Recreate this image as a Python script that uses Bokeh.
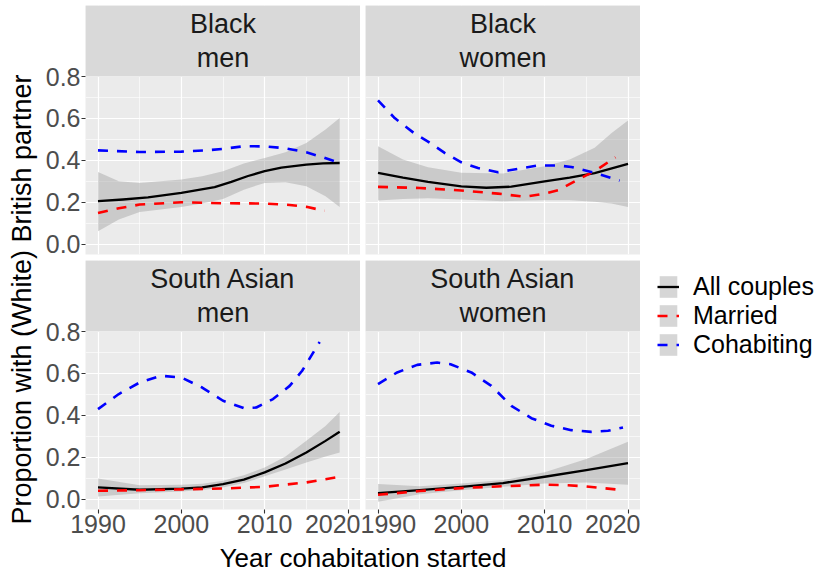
import math
from bokeh.plotting import figure
from bokeh.layouts import row, column
from bokeh.models import (Range1d, FixedTicker, Grid, NumeralTickFormatter, Legend,
                          LegendItem, BoxAnnotation, Label)
from bokeh.embed import file_html
from bokeh.resources import INLINE

FONT = "Liberation Sans"

# ---------------- data ----------------
x_ticks = [1990, 2000, 2010, 2020]
x_minor = [1995, 2005, 2015]
y_ticks = [0.0, 0.2, 0.4, 0.6, 0.8]
y_minor = [0.1, 0.3, 0.5, 0.7]
series_labels = ["All couples", "Married", "Cohabiting"]
series_colors = ["#000000", "#FF0000", "#0000FF"]
strip_labels = ["Black\nmen", "Black\nwomen", "South Asian\nmen", "South Asian\nwomen"]
x_title = "Year cohabitation started"
y_title = "Proportion with (White) British partner"

# Black men
bm_all_x = [1990, 1993, 1996, 2000, 2004, 2006, 2008, 2010, 2012, 2015, 2017, 2019]
bm_all_y = [0.206, 0.214, 0.224, 0.246, 0.273, 0.298, 0.326, 0.349, 0.366, 0.380, 0.386, 0.388]
bm_band_x = [1990, 1992.5, 1995, 2000, 2002.5, 2005, 2007.5, 2010, 2012.5, 2015, 2017.3, 2019]
bm_band_lo = [0.063, 0.119, 0.154, 0.178, 0.195, 0.217, 0.261, 0.293, 0.296, 0.277, 0.230, 0.178]
bm_band_hi = [0.345, 0.301, 0.293, 0.309, 0.325, 0.349, 0.385, 0.412, 0.439, 0.483, 0.547, 0.602]
bm_mar_x = [1990, 1992.5, 1995, 2000, 2005, 2010, 2013, 2015, 2017.2]
bm_mar_y = [0.150, 0.172, 0.190, 0.201, 0.196, 0.195, 0.188, 0.179, 0.160]
bm_coh_x = [1990, 1995, 2000, 2003, 2005, 2007.5, 2010, 2012.5, 2015, 2017, 2019]
bm_coh_y = [0.448, 0.440, 0.442, 0.448, 0.455, 0.468, 0.467, 0.458, 0.439, 0.415, 0.388]

# Black women
bw_all_x = [1990, 1993, 1996, 2000, 2003, 2006, 2010, 2013, 2016, 2020]
bw_all_y = [0.341, 0.318, 0.298, 0.277, 0.270, 0.275, 0.300, 0.318, 0.340, 0.384]
bw_band_x = [1990, 1993, 1996, 2000, 2005, 2010, 2013, 2016, 2018, 2020]
bw_band_lo = [0.209, 0.216, 0.220, 0.214, 0.206, 0.211, 0.210, 0.203, 0.195, 0.178]
bw_band_hi = [0.468, 0.405, 0.368, 0.341, 0.338, 0.372, 0.405, 0.460, 0.530, 0.590]
bw_mar_x = [1990, 1995, 2000, 2004.4, 2007.6, 2010, 2011.6, 2014, 2016, 2018.5]
bw_mar_y = [0.274, 0.269, 0.257, 0.242, 0.227, 0.242, 0.258, 0.309, 0.349, 0.415]
bw_coh_x = [1990, 1992, 1994.3, 1996, 1998, 2000, 2002, 2004.4, 2006.8, 2009.2, 2011.6, 2013.2, 2016, 2019]
bw_coh_y = [0.686, 0.602, 0.531, 0.490, 0.436, 0.391, 0.364, 0.344, 0.360, 0.376, 0.376, 0.369, 0.341, 0.304]

# South Asian men
sm_all_x = [1990, 1995, 2000, 2002.5, 2005, 2007.5, 2010, 2012.5, 2015, 2017.3, 2019]
sm_all_y = [0.057, 0.046, 0.051, 0.057, 0.073, 0.094, 0.129, 0.171, 0.224, 0.279, 0.322]
sm_band_x = [1990, 1995, 2000, 2002.5, 2005, 2007.5, 2010, 2012.5, 2015, 2017.3, 2019]
sm_band_lo = [0.014, 0.030, 0.038, 0.045, 0.057, 0.078, 0.110, 0.142, 0.176, 0.205, 0.224]
sm_band_hi = [0.100, 0.068, 0.070, 0.075, 0.089, 0.115, 0.152, 0.205, 0.279, 0.350, 0.417]
sm_mar_x = [1990, 1995, 2000, 2005, 2010, 2015, 2019]
sm_mar_y = [0.041, 0.044, 0.048, 0.052, 0.060, 0.081, 0.108]
sm_coh_x = [1990, 1992.5, 1995, 1997.5, 2000, 2002.5, 2005, 2007.5, 2009, 2011, 2013, 2014.5, 2016.6]
sm_coh_y = [0.430, 0.502, 0.557, 0.589, 0.581, 0.533, 0.470, 0.435, 0.438, 0.478, 0.541, 0.613, 0.750]

# South Asian women
sw_all_x = [1990, 1995, 2000, 2005, 2010, 2015, 2020]
sw_all_y = [0.030, 0.044, 0.060, 0.078, 0.108, 0.140, 0.173]
sw_band_x = [1990, 1995, 2000, 2005, 2010, 2015, 2020]
sw_band_lo = [-0.011, 0.025, 0.044, 0.060, 0.076, 0.081, 0.070]
sw_band_hi = [0.073, 0.063, 0.076, 0.092, 0.129, 0.192, 0.275]
sw_mar_x = [1990, 1995, 2000, 2005, 2010, 2012.4, 2015, 2019]
sw_mar_y = [0.022, 0.040, 0.054, 0.063, 0.070, 0.068, 0.062, 0.046]
sw_coh_x = [1990, 1992.3, 1994.7, 1997.1, 1998.7, 2001.2, 2003.6, 2006, 2008.4, 2010.8, 2013.2, 2015.6, 2017.6, 2019.4]
sw_coh_y = [0.549, 0.605, 0.641, 0.652, 0.644, 0.605, 0.541, 0.446, 0.387, 0.351, 0.330, 0.322, 0.327, 0.343]

# ---------------- layout constants ----------------
TOP_PAD = 5
STRIP = 71
FRAME = 178
GAP_V = 6
AXIS_B = 33
XT_H = 30
PANEL_W = 275
YT_W = 40
AXIS_L = 45
GAP_H = 5
LEGEND_W = 187
X_LO, X_HI = 1988.5, 2021.5
Y_LO, Y_HI = -0.048, 0.80
PX_PER_UNIT = FRAME / (Y_HI - Y_LO)
Y_TOP = Y_HI + STRIP / PX_PER_UNIT
LINE_W = 2.3
DASH_W = 2.6
DASH = "10 9"
BAND_FILL = "#999999"
BAND_ALPHA = 0.4


def style_series(p, all_x, all_y, band_x, band_lo, band_hi, mar_x, mar_y, coh_x, coh_y):
    band = p.varea(x=band_x, y1=band_lo, y2=band_hi, fill_color=BAND_FILL, fill_alpha=BAND_ALPHA)
    r_all = p.line(all_x, all_y, line_color=series_colors[0], line_width=LINE_W, line_join="round")
    r_mar = p.line(mar_x, mar_y, line_color=series_colors[1], line_width=DASH_W, line_dash=DASH)
    r_coh = p.line(coh_x, coh_y, line_color=series_colors[2], line_width=DASH_W, line_dash=DASH)
    return band, [r_all, r_mar, r_coh]


def make_panel(label, all_x, all_y, band_x, band_lo, band_hi, mar_x, mar_y, coh_x, coh_y,
               left_axis, bottom_axis):
    L = AXIS_L if left_axis else GAP_H
    B = AXIS_B if bottom_axis else GAP_V
    T = 0 if bottom_axis else TOP_PAD
    p = figure(width=L + PANEL_W, height=T + STRIP + FRAME + B,
               x_range=Range1d(X_LO, X_HI), y_range=Range1d(Y_LO, Y_TOP),
               output_backend="svg", toolbar_location=None,
               x_axis_location="below" if bottom_axis else None,
               y_axis_location="left" if left_axis else None,
               min_border_left=L, min_border_right=0,
               min_border_top=T, min_border_bottom=B)
    p.background_fill_color = "#EBEBEB"
    p.border_fill_color = "white"
    p.outline_line_color = None
    for g in p.grid:
        g.visible = False
    p.add_layout(Grid(dimension=0, ticker=FixedTicker(ticks=x_ticks, minor_ticks=x_minor),
                      grid_line_color="white", grid_line_width=1.2,
                      minor_grid_line_color="white", minor_grid_line_width=0.6))
    p.add_layout(Grid(dimension=1, ticker=FixedTicker(ticks=y_ticks, minor_ticks=y_minor),
                      grid_line_color="white", grid_line_width=1.2,
                      minor_grid_line_color="white", minor_grid_line_width=0.6))

    style_series(p, all_x, all_y, band_x, band_lo, band_hi, mar_x, mar_y, coh_x, coh_y)

    # facet strip
    p.add_layout(BoxAnnotation(bottom=Y_HI, fill_color="#D9D9D9", fill_alpha=1.0, line_color=None))
    p.add_layout(Label(x=(X_LO + X_HI) / 2, y=(Y_HI + Y_TOP) / 2, text=label,
                       text_align="center", text_baseline="middle", text_font=FONT,
                       text_font_size="27px", text_color="#1A1A1A", text_line_height=1.16))

    p.xaxis.ticker = FixedTicker(ticks=x_ticks)
    p.yaxis.ticker = FixedTicker(ticks=y_ticks)
    p.yaxis.formatter = NumeralTickFormatter(format="0.0")
    p.axis.axis_line_color = None
    p.axis.major_tick_line_color = "#333333"
    p.axis.major_tick_line_width = 1.1
    p.axis.major_tick_in = 0
    p.axis.major_tick_out = 4
    p.axis.minor_tick_line_color = None
    p.axis.major_label_text_font = FONT
    p.axis.major_label_text_font_size = "25px"
    p.axis.major_label_text_color = "#4D4D4D"
    p.axis.major_label_standoff = 1
    return p


p_bm = make_panel(strip_labels[0], bm_all_x, bm_all_y, bm_band_x, bm_band_lo, bm_band_hi,
                  bm_mar_x, bm_mar_y, bm_coh_x, bm_coh_y, True, False)
p_bw = make_panel(strip_labels[1], bw_all_x, bw_all_y, bw_band_x, bw_band_lo, bw_band_hi,
                  bw_mar_x, bw_mar_y, bw_coh_x, bw_coh_y, False, False)
p_sm = make_panel(strip_labels[2], sm_all_x, sm_all_y, sm_band_x, sm_band_lo, sm_band_hi,
                  sm_mar_x, sm_mar_y, sm_coh_x, sm_coh_y, True, True)
p_sw = make_panel(strip_labels[3], sw_all_x, sw_all_y, sw_band_x, sw_band_lo, sw_band_hi,
                  sw_mar_x, sw_mar_y, sw_coh_x, sw_coh_y, False, True)

TOTAL_H = p_bm.height + p_sm.height + XT_H


def blank(w, h):
    f = figure(width=w, height=h, x_range=Range1d(0, w), y_range=Range1d(0, h),
               output_backend="svg", toolbar_location=None,
               x_axis_location=None, y_axis_location=None,
               min_border_left=0, min_border_right=0, min_border_top=0, min_border_bottom=0)
    f.outline_line_color = None
    f.background_fill_color = "white"
    f.border_fill_color = "white"
    for g in f.grid:
        g.visible = False
    return f


# y-axis title
yt = blank(YT_W, TOTAL_H)
yt.add_layout(Label(x=21.5, y=TOTAL_H - 299, text=y_title, angle=math.pi / 2,
                    text_align="center", text_baseline="middle", text_font=FONT,
                    text_font_size="27px", text_color="#000000"))

# x-axis title
mid_w = p_bm.width + p_bw.width
xt = blank(mid_w, XT_H)
xt.add_layout(Label(x=AXIS_L + (PANEL_W * 2 + GAP_H) / 2, y=XT_H / 2, text=x_title,
                    text_align="center", text_baseline="middle", text_font=FONT,
                    text_font_size="26px", text_color="#000000"))

# legend column: the legend's glyphs come from series renderers whose data lie
# outside this figure's ranges, so only the legend keys are visible here
lg = blank(LEGEND_W, TOTAL_H)
lg_band, lg_lines = style_series(lg, sw_all_x, sw_all_y, sw_band_x, sw_band_lo, sw_band_hi,
                                 sw_mar_x, sw_mar_y, sw_coh_x, sw_coh_y)
legend = Legend(items=[LegendItem(label=lab, renderers=[lg_band, ln])
                       for lab, ln in zip(series_labels, lg_lines)],
                location=(17, TOTAL_H - 359), orientation="vertical",
                padding=0, margin=0, spacing=0,
                glyph_width=22, glyph_height=27, label_height=27, label_standoff=14,
                label_text_font=FONT, label_text_font_size="25px", label_text_color="#000000",
                border_line_color=None, background_fill_alpha=0)
lg.add_layout(legend)

mid = column(row(p_bm, p_bw), row(p_sm, p_sw), xt)
layout = row(yt, mid, lg)

open("out.html", "w").write(file_html(layout, INLINE))
